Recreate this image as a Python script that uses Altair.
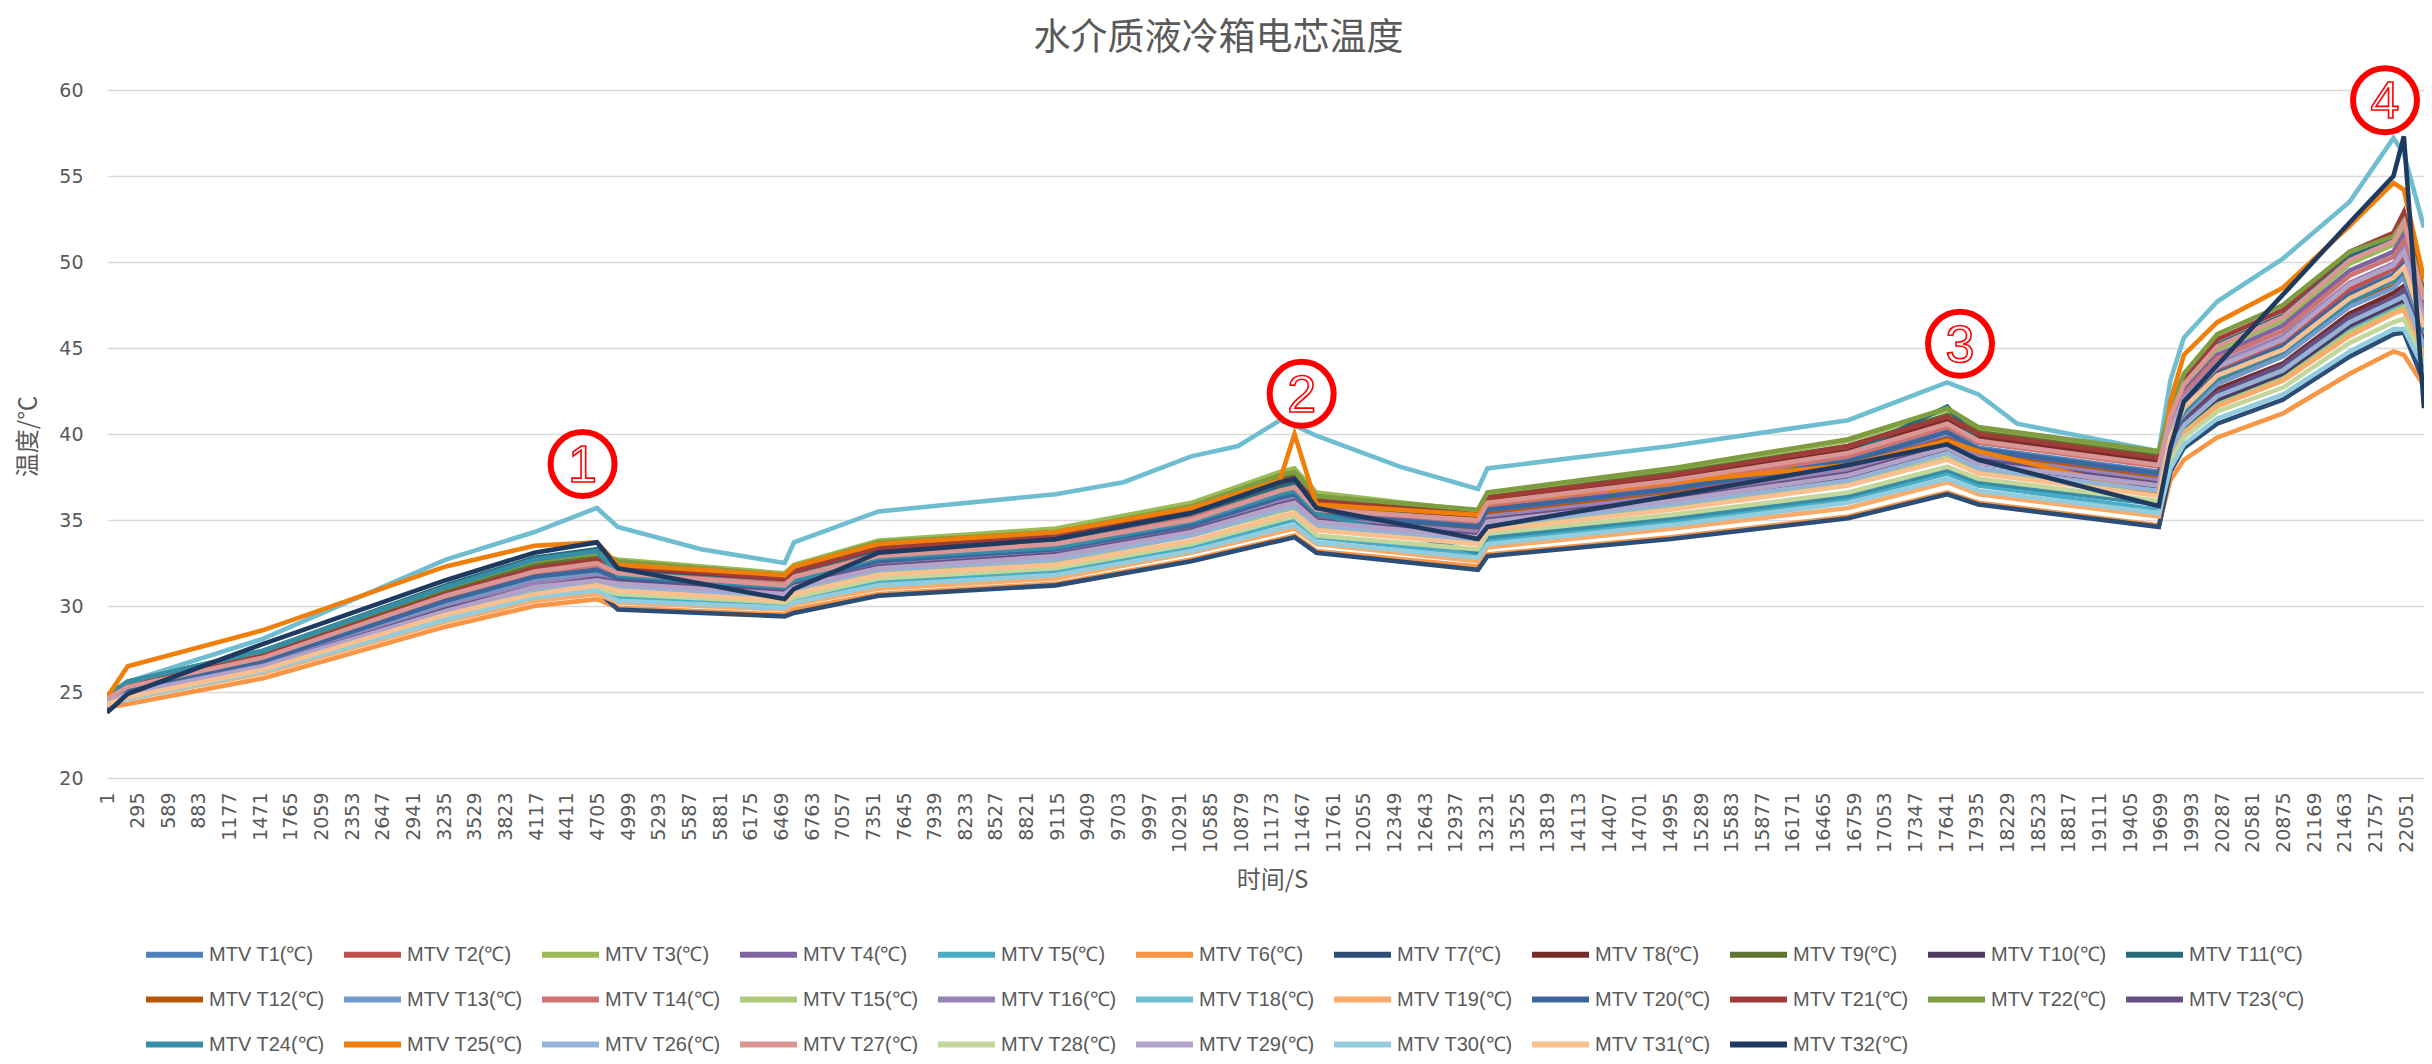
import altair as alt
import pandas as pd

# time knots (s)
TIME_S = [1, 200, 1500, 3250, 4100, 4700, 4900, 6500, 6590, 7400, 9100, 10400, 11250, 11390, 11600,
          13150, 13240, 15000, 16700, 17650, 17950, 19680, 19790, 19920, 20240, 20870, 21510, 21930, 22030, 22223]
# the top cyan trace (T18) is read at a few more points
TIME_T18 = [1, 200, 1500, 3250, 4100, 4700, 4900, 5700, 6500, 6590, 7400, 9100, 9750, 10400, 10850, 11250,
            11390, 11600, 12400, 13150, 13240, 15000, 16700, 17650, 17950, 18320, 19680, 19790, 19920, 20240,
            20870, 21510, 21930, 22030, 22223]

T1 = [24.5,25.1,26.7,30.1,31.5,32.0, 31.7,31.0,31.5,32.7,33.3,34.8,36.4,36.6,35.4, 34.7,35.6,36.9,38.5,40.2,39.2,37.8, 39.9,41.7,43.6,45.2,48.2,49.3,50.1,46.4]
T2 = [24.6,25.3,27.1,30.6,32.1,32.6, 32.4,31.6,32.1,33.4,34.1,35.6,37.3,37.5,36.2, 35.2,36.2,37.5,39.2,40.9,39.9,38.5, 40.1,41.8,43.8,45.4,48.4,49.6,50.3,46.6]
T3 = [24.7,25.5,27.3,31.0,32.5,33.0, 32.7,31.9,32.4,33.8,34.5,36.0,37.8,38.0,36.6, 35.5,36.5,37.9,39.6,41.4,40.3,38.9, 40.9,42.8,44.9,46.6,49.9,51.0,52.0,47.7]
T4 = [24.5,25.0,26.7,30.0,31.4,31.9, 32.1,31.4,31.9,33.1,33.8,35.3,37.0,37.2,35.9, 34.4,35.4,36.6,38.2,39.8,38.9,37.5, 40.7,42.5,44.6,46.3,49.5,50.6,51.6,47.4]
T5 = [24.3,24.8,26.3,29.5,30.8,31.2, 30.5,30.1,30.4,31.4,32.0,33.4,34.8,35.0,34.0, 33.0,33.8,34.9,36.2,37.7,37.0,35.6, 38.7,40.2,41.9,43.4,46.0,47.2,47.5,44.8]
T6 = [24.1,24.3,25.8,28.8,30.0,30.4, 29.9,29.5,29.8,30.7,31.3,32.7,33.9,34.1,33.2, 32.3,33.0,34.0,35.2,36.6,36.0,34.7, 37.3,38.5,39.8,41.2,43.5,44.8,44.6,42.8]
T7 = [24.0,24.7,26.3,29.3,30.5,30.9, 29.8,29.4,29.6,30.6,31.2,32.6,33.8,34.0,33.1, 32.1,32.9,33.9,35.1,36.5,35.9,34.6, 37.8,39.2,40.6,42.0,44.5,45.8,45.9,43.0]
T8 = [24.6,25.3,27.0,30.5,32.0,32.4, 32.2,31.5,32.0,33.3,33.9,35.4,37.1,37.3,36.0, 35.1,36.1,37.4,39.0,40.8,39.8,38.4, 39.2,40.9,42.6,44.1,47.0,48.2,48.6,45.5]
T9 = [24.7,25.5,27.2,30.8,32.4,32.8, 32.5,31.7,32.2,33.6,34.3,35.7,37.5,37.7,36.3, 35.3,36.3,37.7,39.3,41.1,40.1,38.7, 39.0,40.6,42.3,43.8,46.6,47.8,48.2,45.2]
T10 = [24.4,25.0,26.6,29.9,31.2,31.7, 31.2,30.6,31.0,32.2,32.8,34.2,35.7,35.9,34.8, 34.0,34.9,36.1,37.5,39.1,38.3,36.9, 38.8,40.4,42.0,43.5,46.3,47.5,47.8,44.9]
T11 = [24.8,25.6,27.4,31.2,32.8,33.3, 32.0,31.3,31.8,33.1,33.7,35.2,36.9,37.1,35.8, 34.9,35.9,37.2,38.8,41.6,39.5,38.2, 41.1,43.0,45.2,46.9,50.3,51.3,52.5,48.0]
T12 = [24.6,25.2,26.9,30.3,31.8,32.2, 31.8,31.2,31.6,32.8,33.5,35.0,36.6,36.8,35.5, 34.3,35.3,36.5,38.0,39.7,38.8,37.4, 39.5,41.2,43.0,44.6,47.5,48.6,49.2,45.9]
T13 = [24.5,25.1,26.7,30.1,31.5,31.9, 31.4,30.8,31.2,32.4,33.0,34.5,36.0,36.2,35.0, 34.2,35.1,36.4,37.9,39.5,38.6,37.2, 39.5,41.1,42.9,44.5,47.4,48.5,49.1,45.8]
T14 = [24.6,25.2,26.9,30.4,31.8,32.3, 31.9,31.3,31.7,33.0,33.6,35.1,36.7,36.9,35.7, 34.9,35.8,37.1,38.7,40.4,39.5,38.1, 40.5,42.3,44.4,46.0,49.2,50.3,51.2,47.1]
T15 = [24.4,24.8,26.4,29.6,31.0,31.4, 31.1,30.5,30.9,32.0,32.6,34.1,35.5,35.7,34.6, 33.6,34.5,35.7,37.1,38.6,37.8,36.5, 38.6,40.1,41.7,43.2,45.9,47.1,47.4,44.7]
T16 = [24.4,25.0,26.6,29.9,31.3,31.7, 31.5,30.9,31.3,32.5,33.1,34.6,36.1,36.3,35.1, 34.3,35.2,36.4,37.9,39.6,38.7,37.3, 40.3,42.1,44.1,45.7,48.8,49.9,50.8,46.9]
T18 = [24.5,25.6,28.1,32.7,34.3,35.7, 34.6,33.3,32.5,33.7,35.5,36.5,37.2,38.7,39.3,40.8,40.5,39.9,38.1, 36.8,38.0,39.3,40.8,43.0,42.3,40.6,39.0, 43.1,45.6,47.7,50.2,53.5,57.2,56.3,52.0]
T19 = [24.2,24.6,26.1,29.1,30.3,30.7, 30.2,29.8,30.1,31.0,31.6,33.1,34.3,34.5,33.6, 32.6,33.4,34.5,35.7,37.2,36.5,35.2, 38.5,40.0,41.6,43.1,45.7,47.0,47.2,44.5]
T20 = [24.5,25.2,26.8,30.3,31.7,32.1, 31.6,31.0,31.4,32.6,33.3,34.7,36.3,36.5,35.3, 34.6,35.6,36.8,38.4,40.1,39.1,37.7, 39.9,41.6,43.5,45.1,48.1,49.2,49.9,46.3]
T21 = [24.6,25.4,27.1,30.7,32.2,32.7, 32.3,31.6,32.0,33.4,34.0,35.5,37.2,37.4,36.1, 35.3,36.3,37.6,39.3,41.0,40.0,38.6, 41.3,43.3,45.5,47.2,50.6,51.7,52.9,48.2]
T22 = [24.7,25.6,27.4,31.1,32.6,33.1, 32.6,31.8,32.3,33.7,34.3,35.8,37.6,37.8,36.4, 35.6,36.6,38.0,39.7,41.5,40.4,39.0, 41.5,43.5,45.8,47.5,50.6,51.5,52.4,48.0]
T23 = [24.4,24.9,26.5,29.8,31.1,31.6, 31.4,30.8,31.2,32.3,33.0,34.4,35.9,36.1,35.0, 34.1,35.0,36.2,37.7,39.3,38.5,37.1, 39.1,40.7,42.4,44.0,46.8,47.9,48.4,45.3]
T24 = [24.8,25.6,27.4,31.1,32.7,33.2, 31.8,31.1,31.5,32.8,33.4,34.9,36.5,36.7,35.4, 33.1,34.0,35.1,36.4,37.9,37.2,35.9, 39.7,41.3,43.2,44.8,47.7,48.9,49.5,46.0]
T25 = [24.7,26.5,28.6,32.3,33.5,33.7, 32.4,31.8,32.3,33.6,34.3,35.7,37.3,40.0,35.9, 35.3,36.0,37.2,38.2,39.6,39.0,36.5, 41.9,44.6,46.5,48.5,52.1,54.6,54.2,49.0]
T26 = [24.4,24.9,26.5,29.7,31.0,31.4, 31.1,30.6,31.0,32.1,32.7,34.1,35.6,35.8,34.7, 33.8,34.7,35.9,37.3,38.9,38.0,36.7, 39.0,40.5,42.2,43.7,46.5,47.7,48.0,45.1]
T27 = [24.6,25.3,27.0,30.6,32.0,32.5, 31.9,31.2,31.7,32.9,33.6,35.0,36.7,36.9,35.6, 35.0,36.0,37.3,38.9,40.6,39.6,38.2, 41.0,42.9,45.1,46.8,50.1,51.2,52.3,47.8]
T28 = [24.3,24.7,26.2,29.3,30.6,31.0, 30.7,30.2,30.5,31.6,32.2,33.6,35.0,35.2,34.1, 33.3,34.2,35.3,36.6,38.1,37.4,36.1, 38.3,39.8,41.3,42.7,45.3,46.5,46.7,44.2]
T29 = [24.4,24.9,26.5,29.7,31.1,31.5, 31.3,30.7,31.1,32.2,32.9,34.3,35.8,36.0,34.9, 34.0,34.9,36.1,37.6,39.2,38.3,37.0, 40.2,42.0,43.9,45.5,48.7,49.8,50.6,46.7]
T30 = [24.3,24.6,26.2,29.2,30.5,30.9, 30.3,29.9,30.2,31.2,31.8,33.2,34.5,34.7,33.7, 32.8,33.6,34.7,36.0,37.4,36.7,35.4, 38.0,39.4,40.9,42.3,44.8,46.1,46.1,43.8]
T31 = [24.3,24.7,26.3,29.5,30.7,31.2, 30.9,30.3,30.7,31.8,32.4,33.8,35.2,35.4,34.4, 33.6,34.4,35.6,37.0,38.5,37.7,36.4, 39.8,41.5,43.4,44.9,47.9,49.1,49.7,46.2]
T32 = [23.8,24.9,27.8,31.5,33.1,33.7, 32.2,30.4,31.0,33.1,33.9,35.4,37.2,37.4,35.7, 33.9,34.6,36.4,38.2,39.4,38.5,35.8, 39.2,41.9,44.0,48.1,52.3,55.0,57.3,41.5]

SERIES_NAMES = ["T1", "T2", "T3", "T4", "T5", "T6", "T7", "T8", "T9", "T10", "T11", "T12", "T13", "T14",
                "T15", "T16", "T18", "T19", "T20", "T21", "T22", "T23", "T24", "T25", "T26", "T27", "T28",
                "T29", "T30", "T31", "T32"]
SERIES_VALUES = [T1, T2, T3, T4, T5, T6, T7, T8, T9, T10, T11, T12, T13, T14, T15, T16, T18, T19, T20,
                 T21, T22, T23, T24, T25, T26, T27, T28, T29, T30, T31, T32]
SERIES_COLORS = ["#4F81BD", "#C0504D", "#9BBB59", "#8064A2", "#4BACC6", "#F79646", "#2C4D75", "#772C2A",
                 "#5F7530", "#4D3B62", "#276A7C", "#B65708", "#729ACA", "#CD7371", "#AFC97A", "#9983B5",
                 "#6FBDD1", "#F9AB6B", "#3A679C", "#9F3B38", "#7E9D40", "#664F82", "#358EA6", "#F07F09",
                 "#95B3D7", "#D99694", "#C3D69B", "#B3A2C7", "#93CDDD", "#FAC090", "#1F3A60"]

X_TICKS = list(range(1, 22052, 294))
Y_TICKS = [20, 25, 30, 35, 40, 45, 50, 55, 60]

ANN_T = [4562, 11459, 17773, 21849]
ANN_V = [38.25, 42.34, 45.25, 59.4]
ANN_TEXT = ["1", "2", "3", "4"]

LABELS = [f"MTV {n}(℃)" for n in SERIES_NAMES]
rows = []
for name, lab, vals in zip(SERIES_NAMES, LABELS, SERIES_VALUES):
    times = TIME_T18 if name == "T18" else TIME_S
    for t, v in zip(times, vals):
        rows.append({"t": t, "temp": v, "series": lab})
df = pd.DataFrame(rows)
ann = pd.DataFrame({"t": ANN_T, "temp": ANN_V, "label": ANN_TEXT})

GREY = "#595959"
x_scale = alt.Scale(domain=[1, 22223], nice=False, zero=False)
y_scale = alt.Scale(domain=[20, 60], nice=False, zero=False)

x_axis = alt.Axis(values=X_TICKS, tickCount=200, format="d", labelAngle=270, labelOverlap=False,
                  labelFlush=False, labelBound=False, labelSeparation=0,
                  grid=False, ticks=False, domain=False, labelFont="DejaVu Sans", labelFontSize=19,
                  labelColor=GREY, labelPadding=14, title="时间/S", titleFont="Noto Sans CJK SC",
                  titleFontSize=24, titleFontWeight="normal", titleColor=GREY, titleX=1165, titleY=90)
y_axis = alt.Axis(values=Y_TICKS, grid=True, gridColor="#D9D9D9", gridWidth=1.6, ticks=False, domain=False,
                  labelFont="DejaVu Sans", labelFontSize=19, labelColor=GREY, labelPadding=24,
                  title="温度/℃", titleFont="Noto Sans CJK SC", titleFontSize=24, titleFontWeight="normal",
                  titleColor=GREY, titleAngle=270, titleX=-67, titleY=346)

legend = alt.Legend(title=None, orient="none", legendX=36, legendY=833, direction="horizontal", columns=11,
                    symbolType="stroke", symbolSize=3249, symbolStrokeWidth=6, labelFont="Liberation Sans",
                    labelFontSize=20, labelColor=GREY, labelOffset=3, columnPadding=7, rowPadding=1,
                    gridAlign="all", labelLimit=400, symbolLimit=40)

lines = alt.Chart(df).mark_line(strokeWidth=4.6, clip=True).encode(
    x=alt.X("t:Q", scale=x_scale, axis=x_axis),
    y=alt.Y("temp:Q", scale=y_scale, axis=y_axis),
    color=alt.Color("series:N", scale=alt.Scale(domain=LABELS, range=SERIES_COLORS), legend=legend, sort=LABELS),
)

circles = alt.Chart(ann).mark_point(shape="circle", size=4096, filled=True, fill="white", fillOpacity=1,
                                    stroke="#FF0000", strokeWidth=6, opacity=1).encode(
    x=alt.X("t:Q", scale=x_scale, title="时间/S"),
    y=alt.Y("temp:Q", scale=y_scale, title="温度/℃"),
)
digits = alt.Chart(ann).mark_text(font="Liberation Sans", fontSize=52, fill="white", stroke="#FF0000",
                                  strokeWidth=1.6, align="center", baseline="middle", dy=2).encode(
    x=alt.X("t:Q", scale=x_scale, title="时间/S"),
    y=alt.Y("temp:Q", scale=y_scale, title="温度/℃"),
    text="label:N",
)

chart = alt.layer(lines, circles, digits).properties(
    width=2317, height=688,
    title=alt.TitleParams("水介质液冷箱电芯温度", font="Noto Sans CJK SC", fontSize=37, fontWeight="normal",
                          color=GREY, anchor="middle", frame="group", offset=38, dx=-47, dy=40),
    autosize=alt.AutoSizeParams(type="none"),
    padding={"left": 99, "top": 82, "right": 0, "bottom": 276},
).configure_view(stroke=None).configure_axisX(labelOverlap=False)

chart.save("out.html", embed_options={"renderer": "svg", "actions": False})
